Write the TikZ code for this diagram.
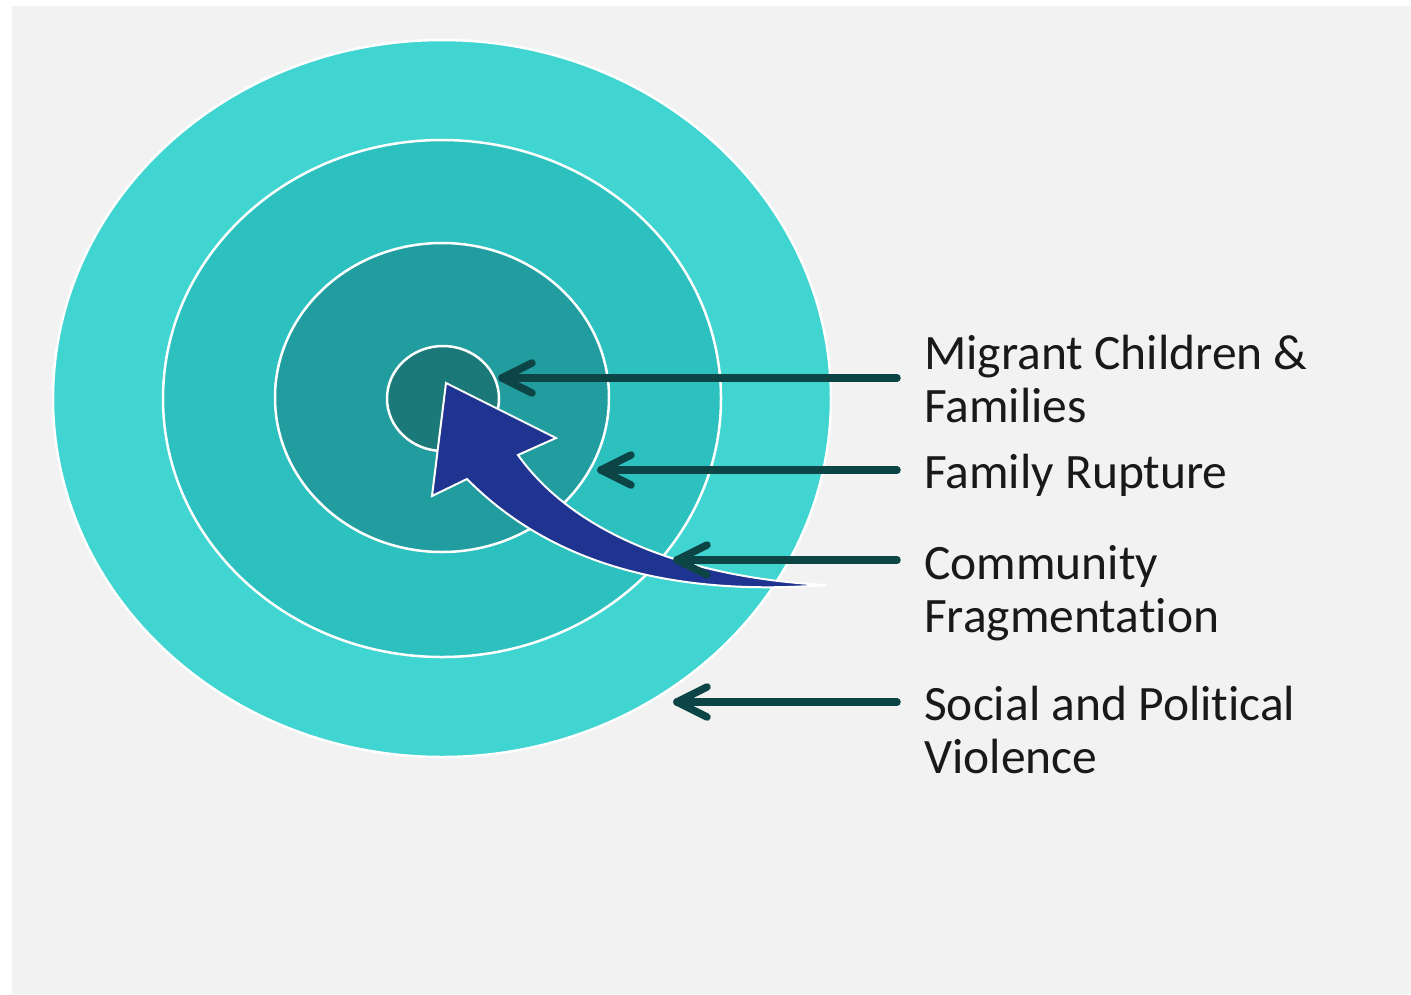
\documentclass[tikz,border=0pt]{standalone}
\usepackage{fontspec}
\setmainfont{Carlito}[Ligatures=NoCommon]
\usetikzlibrary{calc,shapes.geometric}
\definecolor{bg}{HTML}{F2F2F2}
\definecolor{ringA}{HTML}{41D5D1}
\definecolor{ringB}{HTML}{2CC0BF}
\definecolor{ringC}{HTML}{219D9F}
\definecolor{ringD}{HTML}{1B7979}
\definecolor{bigblue}{HTML}{1F3491}
\definecolor{darr}{HTML}{0D4547}
\tikzset{
  ring/.style={ellipse, draw=white, line width=2.5pt, inner sep=0pt, outer sep=0pt},
  lbl/.style={anchor=base west, inner sep=0pt, text=black!90, font=\fontsize{49.5}{53}\selectfont},
  darrow/.style={draw=darr, line width=7.5pt, line cap=round, line join=round},
}
\begin{document}
\begin{tikzpicture}[x=1pt,y=-1pt]
\useasboundingbox (0,0) rectangle (1411,994);
\fill[white] (0,0) rectangle (1411,994);
\fill[bg] (12,6) rectangle (1411,994);

\node[ring, fill=ringA, minimum width=778pt, minimum height=717pt] (r1) at (442,398.5) {};
\node[ring, fill=ringB, minimum width=558pt, minimum height=517pt] (r2) at (442,398.5) {};
\node[ring, fill=ringC, minimum width=334pt, minimum height=309pt] (r3) at (442,397.5) {};
\node[ring, fill=ringD, minimum width=112pt, minimum height=105pt] (r4) at (443,398.5) {};

% big curved blue arrow
\coordinate (tail) at (826,585);
\coordinate (nl) at (467,479);
\coordinate (bl) at (432,496);
\coordinate (tip) at (446,383);
\coordinate (br) at (556,438);
\coordinate (nr) at (518,455);
\filldraw[fill=bigblue, draw=white, line width=2pt, line join=miter]
  (tail) .. controls (680,596) and (555,568) .. (nl)
  -- (bl) -- (tip) -- (br) -- (nr)
  .. controls (575,535) and (690,578) .. (tail) -- cycle;

% labels
\node[lbl] (m1) at (924,369) {Migrant Children \&};
\node[lbl] (m2) at (924,422) {Families};
\node[lbl] (f1) at (924,488) {Family Rupture};
\node[lbl] (c1) at (924,579) {Community};
\node[lbl] (c2) at (924,632) {Fragmentation};
\node[lbl] (s1) at (924,720) {Social and Political};
\node[lbl] (s2) at (924,773) {Violence};

% dark arrows
\coordinate (a1s) at (897,378); \coordinate (a1t) at (502,378);
\coordinate (a2s) at (897,470); \coordinate (a2t) at (601,470);
\coordinate (a3s) at (897,560); \coordinate (a3t) at (677,560);
\coordinate (a4s) at (897,702); \coordinate (a4t) at (677,702);
\foreach \a in {1,2,3,4}{
  \draw[darrow] (a\a s) -- (a\a t);
  \draw[darrow] ($(a\a t)+(30,-15)$) -- (a\a t) -- ($(a\a t)+(30,15)$);
}
\end{tikzpicture}
\end{document}
